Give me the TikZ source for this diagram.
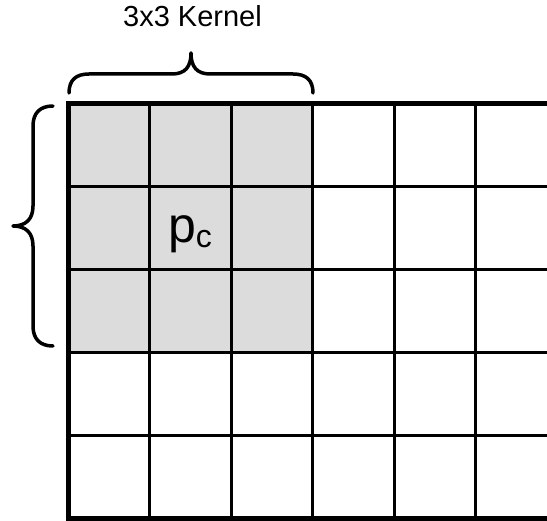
\documentclass[tikz,border=0pt]{standalone}
\usepackage{fontspec}
\setmainfont{Liberation Sans}
\definecolor{kgray}{RGB}{220,220,220}
\begin{document}
\begin{tikzpicture}[x=1pt,y=-1pt,
  thinline/.style={line width=3pt,black},
  thickline/.style={line width=5pt,black},
  bracestyle/.style={line width=3.5pt,black,line cap=round,line join=round},
  lbl/.style={inner sep=0pt,anchor=base}]
\useasboundingbox (0,0) rectangle (547,521);
% kernel fill
\fill[kgray] (68,104) rectangle (312.5,353);
% thin grid lines
\foreach \x in {149.5,231,312.5,394,475.5}
  \draw[thinline] (\x,104) -- (\x,519);
\foreach \y in {187,270,353,436}
  \draw[thinline] (68,\y) -- (547,\y);
% thick border
\draw[thickline] (547,104) -- (68,104) -- (68,519) -- (547,519);
% top brace
\coordinate (tb1) at (69,93);
\coordinate (tb2) at (313,93);
\coordinate (ttip) at (191,53);
\draw[bracestyle] (tb1) .. controls (69,80) and (76,74) .. (89,74) -- (172,74)
  .. controls (185,74) and (191,67) .. (ttip)
  .. controls (191,67) and (197,74) .. (210,74) -- (293,74)
  .. controls (306,74) and (313,80) .. (tb2);
% left brace
\coordinate (lb1) at (53,106);
\coordinate (lb2) at (53,346);
\coordinate (ltip) at (13,226);
\draw[bracestyle] (lb1) .. controls (40,106) and (33,113) .. (33,126) -- (33,206)
  .. controls (33,219) and (26,226) .. (ltip)
  .. controls (26,226) and (33,233) .. (33,246) -- (33,326)
  .. controls (33,339) and (40,346) .. (lb2);
% labels
\node[lbl,font=\fontsize{29}{29}\selectfont] (kernel) at (192.5,27) {3x3 Kernel};
\node[lbl] (pc) at (190,242.5) {{\fontsize{50}{50}\selectfont p}{\fontsize{32}{32}\selectfont\raisebox{-5pt}{c}}};
\end{tikzpicture}
\end{document}
